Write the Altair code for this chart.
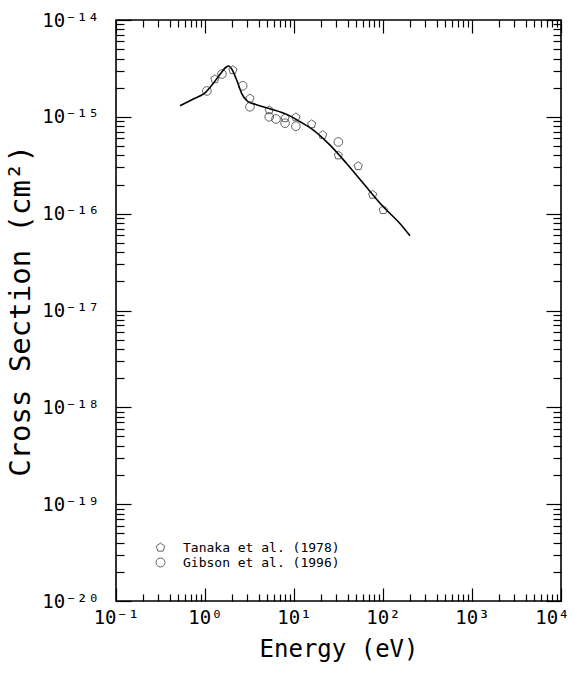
import altair as alt
import pandas as pd

# ---- data ----
line_energy = [0.524, 0.74, 1.0, 1.24, 1.5, 1.72, 1.85, 1.98, 2.27, 2.58, 2.85, 3.07, 3.65, 5.37,
               8.28, 11.7, 16.5, 25.4, 39.0, 60.0, 100.7, 155.0, 201.0]
line_cs = [1.30e-15, 1.53e-15, 1.77e-15, 2.22e-15, 2.80e-15, 3.25e-15, 3.35e-15, 3.15e-15,
           2.40e-15, 1.75e-15, 1.52e-15, 1.43e-15, 1.35e-15, 1.21e-15, 1.06e-15, 8.9e-16,
           7.3e-16, 5.1e-16, 3.3e-16, 2.06e-16, 1.18e-16, 7.9e-17, 5.9e-17]

tanaka_energy = [1.29, 2.06, 3.2, 5.27, 7.93, 10.5, 15.8, 21.0, 31.5, 52.7, 76.5, 100.7]
tanaka_cs = [2.45e-15, 3.04e-15, 1.55e-15, 1.17e-15, 9.7e-16, 9.9e-16, 8.4e-16, 6.5e-16,
             4.0e-16, 3.1e-16, 1.57e-16, 1.09e-16]

gibson_energy = [1.05, 1.55, 2.65, 3.2, 5.27, 6.28, 7.93, 10.5, 31.5]
gibson_cs = [1.85e-15, 2.77e-15, 2.09e-15, 1.27e-15, 1.0e-15, 9.5e-16, 8.6e-16, 8.0e-16, 5.5e-16]

series_names = ["Tanaka et al. (1978)", "Gibson et al. (1996)"]

x_exponents = list(range(-1, 5))
y_exponents = list(range(-20, -13))

# ---- tables ----
line_df = pd.DataFrame({"E": line_energy, "cs": line_cs})
pts_df = pd.concat([
    pd.DataFrame({"E": tanaka_energy, "cs": tanaka_cs, "series": series_names[0]}),
    pd.DataFrame({"E": gibson_energy, "cs": gibson_cs, "series": series_names[1]}),
])

W, H = 445, 581
FONT = "DejaVu Sans Mono"

xdec = [float(f"1e{k}") for k in x_exponents]
xminor = [float(f"{m}e{k}") for k in x_exponents[:-1] for m in range(2, 10)]
ydec = [float(f"1e{k}") for k in y_exponents]
yminor = [float(f"{m}e{k}") for k in y_exponents[:-1] for m in range(2, 10)]

SUP = {"-": "\u207b", "0": "\u2070", "1": "\u00b9", "2": "\u00b2", "3": "\u00b3",
       "4": "\u2074", "5": "\u2075", "6": "\u2076", "7": "\u2077", "8": "\u2078", "9": "\u2079"}


def label_expr(exps):
    expr = "''"
    for k in reversed(exps):
        lab = "10" + "".join(SUP[c] for c in str(k))
        expr = f"(round(log(datum.value)/LN10) == {k}) ? '{lab}' : ({expr})"
    return expr


xscale = alt.Scale(type="log", domain=[0.1, 1e4], nice=False)
yscale = alt.Scale(type="log", domain=[1e-20, 1e-14], nice=False)


def tick_axis(values, size, orient, offset):
    return alt.Axis(values=values, orient=orient, offset=offset, tickSize=size,
                    tickColor="black", tickWidth=1.2, labels=False, domain=False,
                    grid=False, title=None)


x_label_axis = alt.Axis(values=xdec, labelExpr=label_expr(x_exponents), orient="bottom",
                        ticks=False, domain=False, grid=False, labelFont=FONT,
                        labelFontSize=19, labelColor="black", labelPadding=7,
                        labelFlush=False, labelOverlap=False,
                        labelOffset={"condition": {"test": "datum.value > 5000", "value": -9},
                                     "value": 0},
                        title="Energy (eV)", titleFont=FONT, titleFontSize=24,
                        titleFontWeight="normal", titleColor="black", titlePadding=10)
y_label_axis = alt.Axis(values=ydec, labelExpr=label_expr(y_exponents), orient="left",
                        ticks=False, domain=False, grid=False, labelFont=FONT,
                        labelFontSize=19, labelColor="black", labelPadding=17,
                        labelFlush=False, labelOverlap=False,
                        title="Cross Section (cm\u00b2)", titleFont=FONT, titleFontSize=29,
                        titleFontWeight="normal", titleColor="black", titlePadding=6)

line = alt.Chart(line_df).mark_line(color="black", strokeWidth=1.6, interpolate="monotone").encode(
    x=alt.X("E:Q", scale=xscale, axis=x_label_axis),
    y=alt.Y("cs:Q", scale=yscale, axis=y_label_axis),
)

pent = "M0,-1L0.951,-0.309L0.588,0.809L-0.588,0.809L-0.951,-0.309Z"

points = alt.Chart(pts_df).mark_point(filled=False, color="#222222", size=75, strokeWidth=1).encode(
    x=alt.X("E:Q", scale=xscale, axis=tick_axis(xdec, 13, "top", -H)),
    y=alt.Y("cs:Q", scale=yscale, axis=tick_axis(ydec, 15, "right", -W)),
    shape=alt.Shape("series:N",
                    scale=alt.Scale(domain=series_names, range=[pent, "circle"]),
                    legend=alt.Legend(title=None, orient="none", legendX=38, legendY=521,
                                      labelFont=FONT, labelFontSize=13, labelColor="black",
                                      symbolStrokeColor="#222222", symbolFillColor="white",
                                      symbolSize=80, symbolStrokeWidth=1, labelOffset=16,
                                      rowPadding=1, padding=0)),
)

inv1 = alt.Chart(line_df).mark_point(opacity=0).encode(
    x=alt.X("E:Q", scale=xscale, axis=tick_axis(xminor, 7, "top", -H)),
    y=alt.Y("cs:Q", scale=yscale, axis=tick_axis(yminor, 8, "right", -W)),
)
inv2 = alt.Chart(line_df).mark_point(opacity=0).encode(
    x=alt.X("E:Q", scale=xscale, axis=tick_axis(xdec, 13, "bottom", -H)),
    y=alt.Y("cs:Q", scale=yscale, axis=tick_axis(ydec, 15, "left", -W)),
)
inv3 = alt.Chart(line_df).mark_point(opacity=0).encode(
    x=alt.X("E:Q", scale=xscale, axis=tick_axis(xminor, 7, "bottom", -H)),
    y=alt.Y("cs:Q", scale=yscale, axis=tick_axis(yminor, 8, "left", -W)),
)

chart = alt.layer(line, points, inv1, inv2, inv3).resolve_axis(
    x="independent", y="independent"
).properties(
    width=W, height=H,
    padding={"left": 116, "top": 20, "right": 16, "bottom": 73},
    autosize=alt.AutoSizeParams(type="none"),
    background="white",
).configure_view(stroke="black", strokeWidth=1.6)

chart.save("out.html", embed_options={"renderer": "svg", "actions": False})
